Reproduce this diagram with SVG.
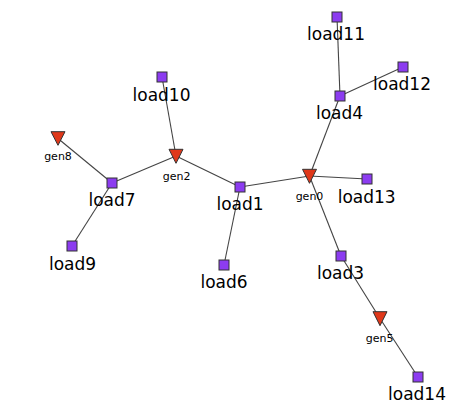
<svg xmlns="http://www.w3.org/2000/svg" width="460" height="415" viewBox="0 0 460 415">
<defs>
<style>
.e{stroke:#444;stroke-width:1.1;fill:none}
.ld rect{fill:#8c3cf0;stroke:#333;stroke-width:1}
.gn polygon{fill:#e0381a;stroke:#333;stroke-width:1}
.ld text{font-family:"DejaVu Sans",sans-serif;font-size:17px;text-anchor:middle;fill:#000}
.gn text{font-family:"DejaVu Sans",sans-serif;font-size:11px;text-anchor:middle;fill:#000}
</style>
</defs>
<rect width="460" height="415" fill="#fff"/>
<g id="edges">
<line class="e" x1="337" y1="17" x2="340" y2="96"/>
<line class="e" x1="403" y1="67" x2="340" y2="96"/>
<line class="e" x1="340" y1="96" x2="309.5" y2="176"/>
<line class="e" x1="309.5" y1="176" x2="367" y2="179"/>
<line class="e" x1="309.5" y1="176" x2="240" y2="187"/>
<line class="e" x1="309.5" y1="176" x2="341" y2="256"/>
<line class="e" x1="341" y1="256" x2="380" y2="318.5"/>
<line class="e" x1="380" y1="318.5" x2="418" y2="377"/>
<line class="e" x1="240" y1="187" x2="176" y2="156"/>
<line class="e" x1="240" y1="187" x2="224" y2="265"/>
<line class="e" x1="176" y1="156" x2="162" y2="77"/>
<line class="e" x1="176" y1="156" x2="112" y2="183"/>
<line class="e" x1="112" y1="183" x2="58" y2="138.5"/>
<line class="e" x1="112" y1="183" x2="72" y2="246"/>
</g>
<g id="load11" class="ld"><rect x="332" y="12" width="10" height="10"/><text x="336" y="40">load11</text></g>
<g id="load12" class="ld"><rect x="398" y="62" width="10" height="10"/><text x="402" y="90">load12</text></g>
<g id="load4" class="ld"><rect x="335" y="91" width="10" height="10"/><text x="339.5" y="118.5">load4</text></g>
<g id="load13" class="ld"><rect x="362" y="174" width="10" height="10"/><text x="366.7" y="202.5">load13</text></g>
<g id="load1" class="ld"><rect x="235" y="182" width="10" height="10"/><text x="240" y="210">load1</text></g>
<g id="load3" class="ld"><rect x="336" y="251" width="10" height="10"/><text x="340.5" y="278.5">load3</text></g>
<g id="load14" class="ld"><rect x="413" y="372" width="10" height="10"/><text x="417" y="399.5">load14</text></g>
<g id="load6" class="ld"><rect x="219" y="260" width="10" height="10"/><text x="224" y="287.5">load6</text></g>
<g id="load10" class="ld"><rect x="157" y="72" width="10" height="10"/><text x="161.5" y="100.5">load10</text></g>
<g id="load7" class="ld"><rect x="107" y="178" width="10" height="10"/><text x="112" y="205.5">load7</text></g>
<g id="load9" class="ld"><rect x="67" y="241" width="10" height="10"/><text x="72.5" y="269.5">load9</text></g>
<g id="gen0" class="gn"><polygon points="302.5,169.3 316.5,169.3 309.5,183.3"/><text x="309.5" y="200">gen0</text></g>
<g id="gen2" class="gn"><polygon points="169,149.3 183,149.3 176,163.3"/><text x="176.7" y="179.5">gen2</text></g>
<g id="gen5" class="gn"><polygon points="373,311.7 387,311.7 380,325.7"/><text x="379.7" y="341.7">gen5</text></g>
<g id="gen8" class="gn"><polygon points="51,131.7 65,131.7 58,145.3"/><text x="58" y="160">gen8</text></g>
</svg>
